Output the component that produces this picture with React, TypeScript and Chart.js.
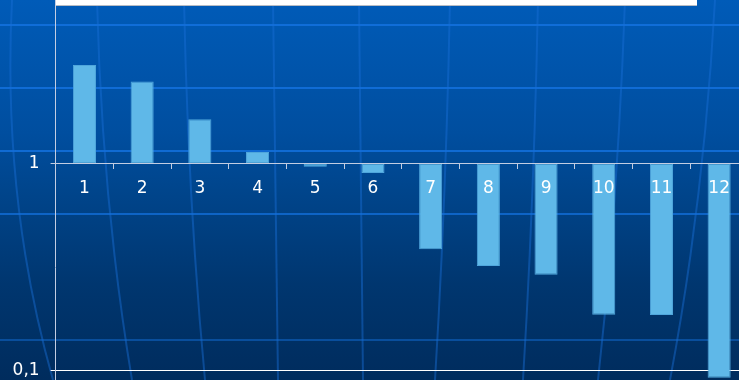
import React, { useEffect, useRef } from 'react';
import { Chart, registerables } from 'chart.js';

Chart.register(...registerables);

// ---- data ----
const categories = ['1', '2', '3', '4', '5', '6', '7', '8', '9', '10', '11', '12'];
const values = [3.0, 2.5, 1.64, 1.14, 0.967, 0.9, 0.385, 0.32, 0.29, 0.186, 0.185, 0.092];
const baseValue = 1;
const yTicks = [0.01, 0.1, 1, 10];
const yMin = 0.01;
const yMax = 10;

// ---- layout (view is a crop of a larger chart) ----
const VIEW_W = 739;
const VIEW_H = 380;
const AXIS_W = 55.6;
const CANVAS_W = 748;
const PAD = 24;
const DECADE = 206.7;
const ONE_Y = 163.7;
const CANVAS_H = Math.round(PAD * 2 + DECADE * 3);
const CANVAS_TOP = ONE_Y - DECADE - PAD;

const AXIS_COLOR = '#c3cde2';

const meridians: [number, number, number][] = [
  [12, 2, 53],
  [97, 102, 132],
  [184, 188, 205],
  [273, 275, 278],
  [359, 361, 363],
  [450, 446, 435],
  [538, 534, 523],
  [625, 618, 598],
  [715, 704, 670],
];
const parallels: [number, number][] = [
  [25, 0.8],
  [88, 0.8],
  [151, 0.8],
  [214, 0.7],
  [340, 0.45],
];

export default function App() {
  const ref = useRef<HTMLCanvasElement | null>(null);

  useEffect(() => {
    if (!ref.current) return;
    const chart = new Chart(ref.current, {
      type: 'bar',
      data: {
        labels: categories,
        datasets: [
          {
            data: values.map((v) => [baseValue, v]) as any,
            backgroundColor: '#5fb8e8',
            borderColor: '#4fa6dc',
            borderWidth: 1,
            borderSkipped: false,
            categoryPercentage: 1,
            barPercentage: 0.4,
          },
        ],
      },
      options: {
        animation: false,
        responsive: false,
        maintainAspectRatio: false,
        layout: { padding: { top: PAD, bottom: PAD, left: 0, right: 0 } },
        plugins: {
          legend: { display: false },
          title: { display: false },
          tooltip: { enabled: false },
        },
        scales: {
          x: {
            type: 'category',
            position: { y: baseValue } as any,
            offset: true,
            grid: {
              display: true,
              drawOnChartArea: false,
              drawTicks: true,
              tickLength: 5,
              color: AXIS_COLOR,
              offset: true,
              z: 1,
            },
            border: { display: true, color: AXIS_COLOR, width: 1, z: 1 } as any,
            ticks: {
              color: '#ffffff',
              font: { family: 'DejaVu Sans', size: 17 },
              padding: 10,
              maxRotation: 0,
              autoSkip: false,
              z: 2,
            },
          },
          y: {
            type: 'logarithmic',
            position: 'left',
            min: yMin,
            max: yMax,
            afterBuildTicks: (scale: any) => {
              scale.ticks = yTicks.map((v) => ({ value: v }));
            },
            afterFit: (scale: any) => {
              scale.width = AXIS_W;
            },
            grid: {
              display: true,
              drawTicks: true,
              tickLength: 5,
              lineWidth: 1,
              color: (ctx: any) => {
                const v = ctx.tick ? ctx.tick.value : null;
                if (v === 0.1) return '#ffffff';
                if (v === 1) return AXIS_COLOR;
                return 'rgba(0,0,0,0)';
              },
            },
            border: { display: true, color: AXIS_COLOR, width: 1 },
            ticks: {
              color: '#ffffff',
              font: { family: 'DejaVu Sans', size: 17 },
              padding: 11,
              callback: (v: any) => String(v).replace('.', ','),
            },
          },
        },
      },
    });
    return () => chart.destroy();
  }, []);

  return (
    <div
      style={{
        position: 'fixed',
        left: 0,
        top: 0,
        width: VIEW_W,
        height: VIEW_H,
        overflow: 'hidden',
        background: 'linear-gradient(to bottom, #005bb8 0%, #004e9f 35%, #00458c 50%, #00366f 75%, #002c5d 100%)',
      }}
    >
      <svg
        width={VIEW_W}
        height={VIEW_H}
        style={{ position: 'absolute', left: 0, top: 0 }}
      >
        {parallels.map(([y, a], i) => (
          <line key={'p' + i} x1={0} x2={VIEW_W} y1={y} y2={y} stroke={`rgba(20,115,225,${a})`} strokeWidth={2} />
        ))}
        {meridians.map(([t, c, b], i) => (
          <path key={'m' + i} d={`M ${t} 0 Q ${c} 200 ${b} ${VIEW_H}`} fill="none" stroke="rgba(25,110,215,0.45)" strokeWidth={2} />
        ))}
      </svg>
      <div
        style={{
          position: 'absolute',
          left: 55,
          top: 0,
          width: 642,
          height: 5,
          background: '#ffffff',
          borderBottom: '1px solid #b8bcc4',
        }}
      />
      <canvas
        ref={ref}
        width={CANVAS_W}
        height={CANVAS_H}
        style={{ position: 'absolute', left: 0, top: CANVAS_TOP, width: CANVAS_W, height: CANVAS_H }}
      />
    </div>
  );
}
